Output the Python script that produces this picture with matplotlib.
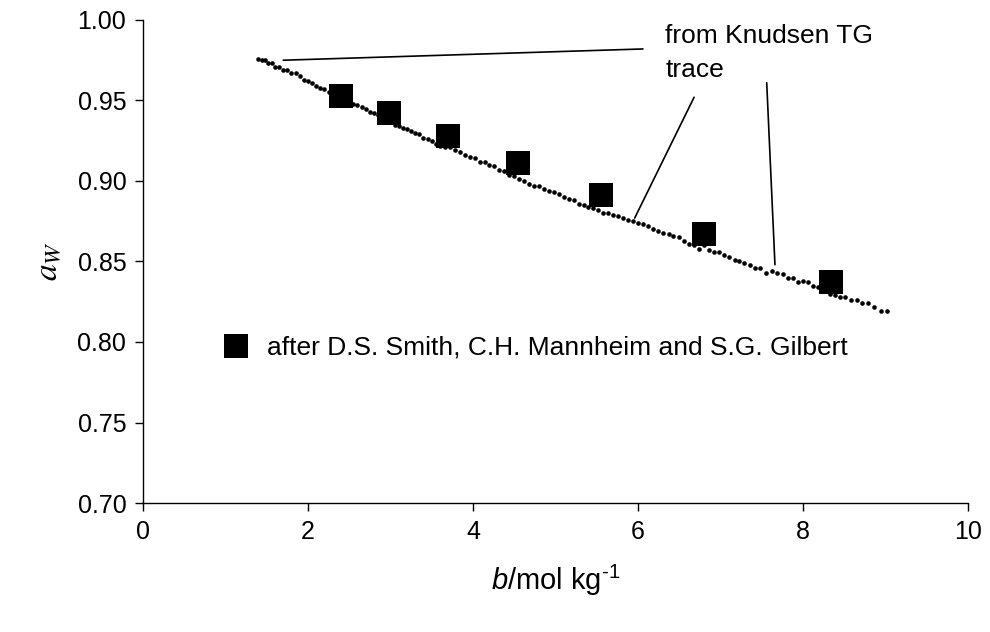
import numpy as np
import matplotlib
matplotlib.use("Agg")
import matplotlib.pyplot as plt

plt.rcParams['font.family'] = ['Liberation Sans', 'DejaVu Sans']
plt.rcParams['mathtext.fontset'] = 'custom'
plt.rcParams['mathtext.rm'] = 'Liberation Sans'
plt.rcParams['mathtext.it'] = 'Liberation Sans:italic'

# Knudsen TG trace (molality b, water activity a_w)
trace_b = [1.40, 1.44, 1.48, 1.52, 1.56, 1.60, 1.65, 1.70, 1.75, 1.80, 1.85, 1.90,
           1.95, 2.00, 2.05, 2.10, 2.15, 2.20, 2.25, 2.30, 2.35, 2.40, 2.45, 2.50,
           2.55, 2.60, 2.65, 2.70, 2.75, 2.80, 2.85, 2.90, 2.95, 3.00, 3.05, 3.10,
           3.15, 3.20, 3.25, 3.30, 3.35, 3.40, 3.45, 3.50, 3.55, 3.60,
           3.66, 3.72, 3.78, 3.84, 3.90, 3.96, 4.02, 4.08, 4.14, 4.20, 4.26, 4.32,
           4.38, 4.44, 4.50, 4.56, 4.62, 4.68, 4.74, 4.80, 4.86, 4.92, 4.98, 5.04,
           5.10, 5.16, 5.22, 5.28, 5.34, 5.40, 5.46, 5.52, 5.58, 5.64,
           5.70, 5.76, 5.82, 5.88, 5.94, 6.00, 6.06, 6.12, 6.18, 6.24, 6.30, 6.37,
           6.43, 6.50, 6.56, 6.62, 6.68, 6.74, 6.80, 6.86, 6.92, 6.98, 7.04, 7.10,
           7.17, 7.23, 7.29, 7.36, 7.42, 7.48, 7.55, 7.62, 7.69,
           7.76, 7.82, 7.88, 7.94, 8.00, 8.06, 8.12, 8.18, 8.25, 8.33, 8.39, 8.45,
           8.51, 8.58, 8.65, 8.72, 8.79, 8.86, 8.95, 9.02]
trace_aw = [0.976, 0.975, 0.975, 0.973, 0.973, 0.971, 0.971, 0.969, 0.969, 0.967, 0.967, 0.965,
            0.963, 0.962, 0.961, 0.959, 0.958, 0.957, 0.955, 0.954, 0.953, 0.952, 0.950, 0.949,
            0.948, 0.947, 0.946, 0.945, 0.943, 0.942, 0.941, 0.939, 0.938, 0.937, 0.935, 0.934,
            0.933, 0.932, 0.931, 0.930, 0.929, 0.927, 0.926, 0.925, 0.923, 0.922,
            0.921, 0.921, 0.919, 0.918, 0.916, 0.915, 0.914, 0.912, 0.912, 0.910, 0.909, 0.907,
            0.906, 0.904, 0.903, 0.901, 0.900, 0.898, 0.897, 0.897, 0.895, 0.894, 0.893, 0.892,
            0.890, 0.889, 0.888, 0.886, 0.885, 0.884, 0.883, 0.882, 0.880, 0.880,
            0.879, 0.878, 0.877, 0.876, 0.875, 0.874, 0.873, 0.872, 0.870, 0.869, 0.868, 0.867,
            0.866, 0.865, 0.863, 0.861, 0.860, 0.858, 0.860, 0.857, 0.856, 0.856, 0.854, 0.853,
            0.851, 0.850, 0.849, 0.848, 0.846, 0.846, 0.843, 0.844, 0.843,
            0.842, 0.840, 0.840, 0.837, 0.838, 0.837, 0.835, 0.834, 0.832, 0.830, 0.829, 0.828,
            0.828, 0.826, 0.826, 0.824, 0.824, 0.822, 0.819, 0.819]

# literature points (Smith, Mannheim, Gilbert)
lit_b = [2.40, 2.98, 3.70, 4.55, 5.55, 6.80, 8.34]
lit_aw = [0.953, 0.942, 0.928, 0.911, 0.891, 0.867, 0.837]

# leader lines for the "from Knudsen TG trace" note: (text end, trace end)
leaders = [((6.06, 0.982), (1.70, 0.975)),
           ((6.68, 0.952), (5.96, 0.877)),
           ((7.56, 0.961), (7.66, 0.848))]

fig = plt.figure(figsize=(9.9, 6.32), dpi=100)
ax = fig.add_axes([0.1444, 0.2041, 0.8334, 0.7643])

ax.plot(trace_b, trace_aw, 'o', color='black', ms=3.3, mew=0, zorder=2)
ax.plot(lit_b, lit_aw, 's', color='black', ms=17.5, mew=0, zorder=3,
        label='after D.S. Smith, C.H. Mannheim and S.G. Gilbert')

for (p0, p1) in leaders:
    ax.annotate('', xy=p1, xytext=p0,
                arrowprops=dict(arrowstyle='-', color='black', lw=1.2,
                                shrinkA=0, shrinkB=0))
ax.text(6.33, 0.9975, 'from Knudsen TG\ntrace', fontsize=19, ha='left', va='top',
        linespacing=1.55)

ax.set_xlim(0, 10)
ax.set_ylim(0.70, 1.00)
ax.set_xticks(np.arange(0, 11, 2))
ax.set_yticks(np.arange(0.70, 1.001, 0.05))
ax.set_yticklabels(['%.2f' % v for v in np.arange(0.70, 1.001, 0.05)])
ax.tick_params(direction='out', length=6, width=1, labelsize=18, pad=6)
for s in ['top', 'right']:
    ax.spines[s].set_visible(False)
for s in ['left', 'bottom']:
    ax.spines[s].set_linewidth(1)

ax.set_xlabel(r'$b$/mol kg$^{\text{-}1}$', fontsize=21, labelpad=14)
ax.set_ylabel(r'$a_W$', fontsize=24, math_fontfamily='stix', labelpad=10)

ax.legend(loc='center left', bbox_to_anchor=(0.098, 0.321), frameon=False,
          fontsize=19, numpoints=1, handlelength=0.9, handletextpad=0.72,
          borderpad=0, borderaxespad=0)

fig.savefig('out.png', dpi=100)
